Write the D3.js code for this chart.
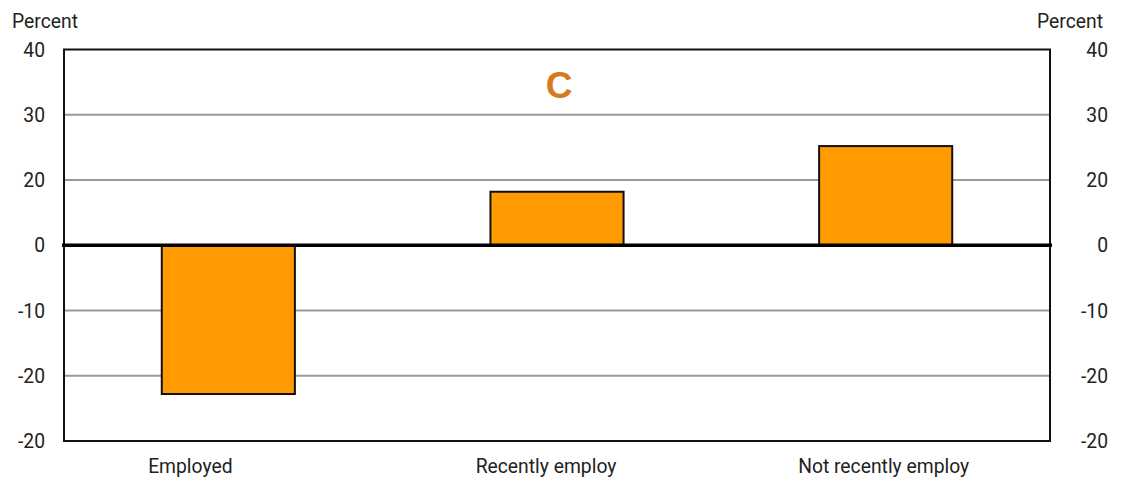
<!DOCTYPE html>
<html><head><meta charset="utf-8">
<script src="https://cdn.jsdelivr.net/npm/d3@7"></script>
<style>
body{margin:0;background:#fff;}
text{font-family:Roboto,"Liberation Sans",sans-serif;fill:#222;}
</style></head>
<body><svg id="c" width="1122" height="483"></svg>
<script>
const categories = ["Employed", "Recently employ", "Not recently employ"];
const values = [-22.8, 8.2, 15.2];
const tickValues = [30, 20, 10, 0, -10, -20, -30];
const tickLabels = ["40", "30", "20", "0", "-10", "-20", "-20"];
const panelLabel = "C";
const axisTitle = "Percent";

// layout constants
const labelDx = [-38, -11, -2];
const sx = 0.92; // narrow-font emulation

const svg = d3.select("#c");
const m = {l: 64, r: 1050, t: 49.5, b: 441};
const x = d3.scaleBand().domain(categories).range([m.l, m.r]).padding(0);
const y = d3.scaleLinear().domain([-30, 30]).range([m.b, m.t]);
const barW = x.bandwidth() * 0.405;

// gridlines
svg.append("g").selectAll("line").data(tickValues.filter(v => v !== 0 && v !== 30 && v !== -30))
  .join("line").attr("x1", m.l).attr("x2", m.r)
  .attr("y1", d => y(d)).attr("y2", d => y(d))
  .attr("stroke", "#999").attr("stroke-width", 2);

// bars
svg.append("g").selectAll("rect").data(values).join("rect")
  .attr("x", (d, i) => x(categories[i]) + x.bandwidth() / 2 - barW / 2)
  .attr("width", barW)
  .attr("y", d => y(Math.max(0, d)))
  .attr("height", d => Math.abs(y(d) - y(0)))
  .attr("fill", "#FF9A00").attr("stroke", "#111").attr("stroke-width", 2);

// frame
svg.append("rect").attr("x", m.l).attr("y", m.t).attr("width", m.r - m.l).attr("height", m.b - m.t)
  .attr("fill", "none").attr("stroke", "#111").attr("stroke-width", 2);
// zero line
svg.append("line").attr("x1", m.l - 2).attr("x2", m.r + 2).attr("y1", y(0)).attr("y2", y(0))
  .attr("stroke", "#000").attr("stroke-width", 3.5);

// y axes labels
const yl = d3.axisLeft(y).tickValues(tickValues).tickFormat((d, i) => tickLabels[i]).tickSize(0).tickPadding(19 / sx);
const gl = svg.append("g").attr("transform", `translate(${m.l},0)`).call(yl);
const yr = d3.axisRight(y).tickValues(tickValues).tickFormat((d, i) => tickLabels[i]).tickSize(0);
const gr = svg.append("g").attr("transform", `translate(1108,0)`).call(yr);
gr.selectAll("text").attr("text-anchor", "end").attr("x", 0);
[gl, gr].forEach(g => {
  g.select(".domain").remove();
  g.selectAll("text").style("font-family", "Roboto,sans-serif").style("font-size", "21px")
    .attr("fill", "#222").attr("transform", `scale(${sx},1)`);
});

// x axis labels
const xa = d3.axisBottom(x).tickSize(0);
const gx = svg.append("g").attr("transform", `translate(0,${m.b})`).call(xa);
gx.select(".domain").remove();
gx.selectAll(".tick text").attr("dy", null).attr("y", 32)
  .attr("dx", (d, i) => labelDx[i] / sx)
  .attr("transform", `scale(${sx},1)`)
  .style("font-family", "Roboto,sans-serif").style("font-size", "21px").attr("fill", "#222");

svg.append("text").attr("transform", `translate(12,28) scale(${sx},1)`).style("font-size", "21px").text(axisTitle);
svg.append("text").attr("transform", `translate(1103,28) scale(${sx},1)`).attr("text-anchor", "end").style("font-size", "21px").text(axisTitle);

svg.append("text").attr("x", (m.l + m.r) / 2 + 2).attr("y", 98).attr("text-anchor", "middle")
  .style("font-family", "'Liberation Sans',Arial,sans-serif").style("font-weight", "bold").style("font-size", "37px")
  .style("fill", "#D67A1E").text(panelLabel);
</script></body></html>
